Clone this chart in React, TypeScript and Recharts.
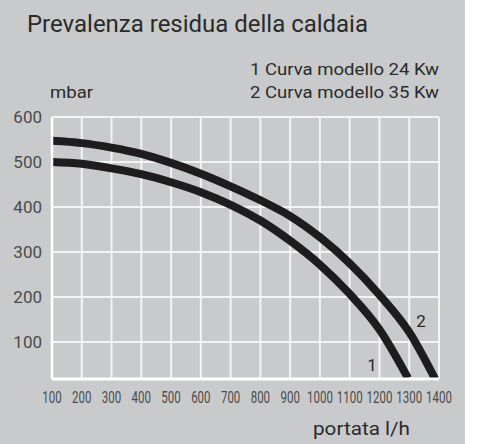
import { CartesianGrid, Line, LineChart, ReferenceDot, XAxis, YAxis } from "recharts";

const flowTicks = [100, 200, 300, 400, 500, 600, 700, 800, 900, 1000, 1100, 1200, 1300, 1400];
const headTicks = [100, 200, 300, 400, 500, 600];

// curva 1 – modello 24 Kw (l/h, mbar)
const flow24 = [100, 200, 300, 400, 500, 600, 700, 800, 900, 1000, 1100, 1200, 1296];
const head24 = [500, 496, 486, 473, 455, 433, 405, 370, 325, 272, 207, 128, 20];

// curva 2 – modello 35 Kw
const flow35 = [100, 200, 300, 400, 500, 600, 700, 800, 900, 1000, 1100, 1200, 1300, 1387];
const head35 = [547, 542, 532, 518, 498, 474, 446, 415, 380, 333, 275, 205, 122, 18];

const curve24 = flow24.map((x, i) => ({ x, y: head24[i] }));
const curve35 = flow35.map((x, i) => ({ x, y: head35[i] }));

const FONT = "Roboto, 'DejaVu Sans', sans-serif";
const BG = "#c9cacc";
const INK = "#2a2a2a";
const GRID = "#f4f4f4";

function FlowTick({ x, y, payload }: any) {
  return (
    <text
      transform={`translate(${x},${y + 16}) scale(0.72,1)`}
      textAnchor="middle"
      fontFamily={FONT}
      fontSize={16}
      fill="#4a4a4a"
    >
      {payload.value}
    </text>
  );
}

export default function App() {
  return (
    <div style={{ position: "absolute", left: 0, top: 0, width: 465, height: 444, background: BG }}>
      <LineChart width={465} height={444} margin={{ top: 117, right: 26, bottom: 0, left: 0 }}>
        <CartesianGrid stroke={GRID} strokeWidth={2} strokeOpacity={1} />
        <XAxis
          type="number"
          dataKey="x"
          domain={[100, 1400]}
          ticks={flowTicks}
          interval={0}
          height={65}
          tick={<FlowTick />}
          axisLine={{ stroke: "#ffffff", strokeWidth: 3 }}
          tickLine={false}
        />
        <YAxis
          type="number"
          dataKey="y"
          domain={[18, 600]}
          ticks={headTicks}
          interval={0}
          width={52}
          tickMargin={4}
          tick={{ fill: "#4a4a4a", fontSize: 17, fontFamily: FONT }}
          axisLine={{ stroke: "#ffffff", strokeWidth: 2.5 }}
          tickLine={false}
        />
        <Line
          data={curve24}
          dataKey="y"
          type="monotone"
          stroke="#1e1c1d"
          strokeWidth={8}
          dot={false}
          activeDot={false}
          isAnimationActive={false}
        />
        <Line
          data={curve35}
          dataKey="y"
          type="monotone"
          stroke="#1e1c1d"
          strokeWidth={8}
          dot={false}
          activeDot={false}
          isAnimationActive={false}
        />
        <ReferenceDot x={1175} y={49} r={0} label={{ value: "1", fill: INK, fontSize: 17, fontFamily: FONT }} />
        <ReferenceDot x={1340} y={147} r={0} label={{ value: "2", fill: INK, fontSize: 17, fontFamily: FONT }} />
        <text x={27} y={32} fontSize={24} fill={INK} fontFamily={FONT} textLength={341} lengthAdjust="spacingAndGlyphs">
          Prevalenza residua della caldaia
        </text>
        <text x={250} y={75} fontSize={17} fill={INK} fontFamily={FONT} textLength={189} lengthAdjust="spacingAndGlyphs">
          1 Curva modello 24 Kw
        </text>
        <text x={250} y={98} fontSize={17} fill={INK} fontFamily={FONT} textLength={189} lengthAdjust="spacingAndGlyphs">
          2 Curva modello 35 Kw
        </text>
        <text x={50} y={98} fontSize={17} fill={INK} fontFamily={FONT} textLength={43} lengthAdjust="spacingAndGlyphs">
          mbar
        </text>
        <text x={313} y={435} fontSize={19} fill={INK} fontFamily={FONT} textLength={97} lengthAdjust="spacingAndGlyphs">
          portata l/h
        </text>
      </LineChart>
    </div>
  );
}
